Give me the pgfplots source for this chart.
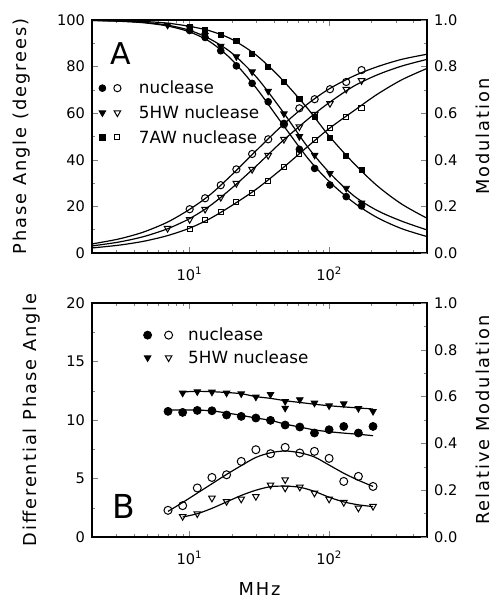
\documentclass[border=0pt]{standalone}
\usepackage{fontspec}
\setmainfont{DejaVu Sans}
\newfontfamily\labelfont[LetterSpace=11]{DejaVu Sans}
\usepackage{pgfplots}
\pgfplotsset{compat=1.18}
\usepackage{pgfplotstable}

% panel A: phase (deg) and modulation
\pgfplotstableread{
f      nuc   hw    aw    mnuc   mhw    maw
6.95   nan   10.6  nan   nan    0.978  nan
10     18.8  14.4  10.2  0.955  0.965  0.970
12.9   23.5  18.8  14.2  0.925  0.935  0.955
16.7   29.1  23.9  17.5  0.868  0.888  0.935
21.6   35.9  29.9  21.8  0.803  0.843  0.910
28     42.5  35.9  25.9  0.728  0.778  0.855
36.5   48.8  41.9  30.9  0.649  0.695  0.800
47.3   55.2  48.8  36.8  0.556  0.598  0.735
61     62.1  54.2  42.5  0.445  0.500  0.662
78.5   66.0  59.5  48.5  0.363  0.420  0.585
101    70.3  64.2  53.5  0.292  0.342  0.494
132    73.4  70.3  58.2  0.242  0.278  0.418
170    78.5  74.0  62.4  0.202  0.215  0.356
}\dataA

% panel A: fitted curves
\pgfplotstableread{
f    nuc    hw     aw     mnuc    mhw     maw
2    3.88   3.02   2.16   0.9978  0.9981  0.9989
3    5.81   4.53   3.24   0.9950  0.9958  0.9974
4    7.73   6.03   4.31   0.9913  0.9925  0.9955
5    9.63   7.52   5.38   0.9864  0.9884  0.9929
7    13.36  10.47  7.52   0.9739  0.9776  0.9863
10   18.74  14.78  10.67  0.9488  0.9557  0.9727
14   25.00  20.28  14.78  0.9063  0.9183  0.9533
20   33.50  27.82  20.34  0.8299  0.8587  0.9175
30   43.98  37.36  27.40  0.7075  0.7555  0.8491
45   54.18  47.42  35.79  0.5624  0.6180  0.7499
70   64.00  57.36  45.70  0.4072  0.4550  0.6197
100  70.48  64.59  53.49  0.3061  0.3450  0.5008
150  76.01  71.65  61.07  0.2158  0.2449  0.3842
220  79.94  76.44  68.10  0.1521  0.1824  0.2886
330  83.12  80.23  74.34  0.1043  0.1365  0.2096
500  85.30  83.10  79.21  0.0706  0.0990  0.1492
}\fitA

% panel B: differential phase and relative modulation
\pgfplotstableread{
f      dnuc   dhw    rnuc    rhw
7      10.74  nan    0.114   nan
8.91   10.65  12.31  0.134   0.088
11.34  10.82  12.42  0.2095  0.0995
14.44  10.79  12.39  0.2545  0.1665
18.38  10.43  12.31  0.266   0.152
23.40  10.31  12.25  0.323   0.1625
29.79  10.17  11.97  0.373   0.1735
37.92  9.97   12.19  0.356   0.2225
48.27  9.57   11.59  0.383   0.245
48.27  nan    11.02  nan     0.2095
61.45  9.40   11.74  0.359   0.2135
78.23  8.89   11.45  0.366   0.188
99.58  9.17   11.22  0.336   0.1625
126.8  9.45   11.39  0.2375  0.148
161.4  8.89   10.99  0.259   0.124
205.4  9.45   10.74  0.216   0.131
}\dataB

\pgfplotstableread{
f      dnuc   dhw    rnuc    rhw
7      10.85  nan    0.1095  nan
8.91   10.85  12.40  0.1475  0.0855
11.34  10.85  12.45  0.1875  0.0995
14.44  10.78  12.42  0.2275  0.1225
18.38  10.60  12.35  0.2675  0.150
23.40  10.40  12.25  0.305   0.1775
29.79  10.17  12.00  0.340   0.200
37.92  9.97   11.85  0.360   0.215
48.27  9.65   11.65  0.3675  0.2175
61.45  9.40   11.50  0.360   0.2125
78.23  9.15   11.35  0.342   0.195
99.58  9.00   11.22  0.3075  0.170
126.8  8.88   11.12  0.2725  0.150
161.4  8.78   11.03  0.2425  0.1375
205.4  8.66   10.94  0.216   0.130
}\fitB

\tikzset{
  fitline/.style={black, line width=0.6pt, smooth},
  fdot/.style={mark=*, mark size=1.7pt, black},
  odot/.style={mark=o, mark size=1.8pt, black, mark options={line width=0.5pt}},
  ftri/.style={mark=triangle*, mark size=1.9pt, black, mark options={rotate=180}},
  otri/.style={mark=triangle, mark size=1.9pt, black, mark options={rotate=180, line width=0.5pt}},
  fsq/.style={mark=square*, mark size=1.3pt, black},
  osq/.style={mark=square, mark size=1.3pt, black, mark options={line width=0.5pt}},
}

\begin{document}
\begin{tikzpicture}
\useasboundingbox (0,0) rectangle (246.5pt,300.5pt);

% ---------------- panel A ----------------
\begin{axis}[at={(46pt,174pt)}, anchor=south west,
    scale only axis, width=167.5pt, height=116.5pt,
    xmode=log, xmin=2, xmax=500,
    xtick={10,100}, xticklabels={10\textsuperscript{1},10\textsuperscript{2}},
    minor xtick={2,3,4,5,6,7,8,9,20,30,40,50,60,70,80,90,200,300,400,500},
    tick align=inside, major tick length=3pt, minor tick length=1.7pt,
    axis line style={line width=0.6pt},
    tick label style={font=\fontsize{7.3}{8}\selectfont},
    xticklabel style={yshift=-3.5pt},
    label style={font=\labelfont\fontsize{8.9}{10}\selectfont},
    /pgf/number format/assume math mode=true,
    ymin=0, ymax=100, ytick={0,20,40,60,80,100}, minor y tick num=1, ytick pos=left,
    ylabel={Phase Angle (degrees)},
    ylabel style={at={(axis description cs:-0.209,0.5)}, anchor=center},
    legend style={at={(axis description cs:0.0,0.762)}, anchor=north west,
      draw=none, fill=none, font=\fontsize{8.4}{9}\selectfont, row sep=4pt,
      nodes={inner xsep=2.8pt, inner ysep=0.8pt, text height=6.2pt, text depth=0.5pt}},
    legend cell align=left]
\addlegendimage{legend image code/.code={
    \draw[fdot] plot[only marks] coordinates {(0pt,0pt)};
    \draw[odot] plot[only marks] coordinates {(7.5pt,0pt)};
    \path[draw=none] (-2pt,0pt) -- (15.5pt,0pt);}}
\addlegendentry{nuclease}
\addlegendimage{legend image code/.code={
    \draw[ftri] plot[only marks] coordinates {(0pt,0pt)};
    \draw[otri] plot[only marks] coordinates {(7.5pt,0pt)};
    \path[draw=none] (-2pt,0pt) -- (15.5pt,0pt);}}
\addlegendentry{5HW nuclease}
\addlegendimage{legend image code/.code={
    \draw[fsq] plot[only marks] coordinates {(0pt,0pt)};
    \draw[osq] plot[only marks] coordinates {(7.5pt,0pt)};
    \path[draw=none] (-2pt,0pt) -- (15.5pt,0pt);}}
\addlegendentry{7AW nuclease}
\addplot[fitline, no marks, forget plot] table[x=f, y=nuc] {\fitA};
\addplot[fitline, no marks, forget plot] table[x=f, y=hw] {\fitA};
\addplot[fitline, no marks, forget plot] table[x=f, y=aw] {\fitA};
\addplot[odot, only marks, forget plot] table[x=f, y=nuc] {\dataA};
\addplot[otri, only marks, forget plot] table[x=f, y=hw] {\dataA};
\addplot[osq, only marks, forget plot] table[x=f, y=aw] {\dataA};
\node at (axis description cs:0.087,0.858) {\fontsize{15}{15}\selectfont A};
\end{axis}
\begin{axis}[at={(46pt,174pt)}, anchor=south west,
    scale only axis, width=167.5pt, height=116.5pt,
    xmode=log, xmin=2, xmax=500, axis x line=none, axis y line*=right,
    tick align=inside, major tick length=3pt, minor tick length=1.7pt,
    axis line style={line width=0.6pt},
    tick label style={font=\fontsize{7.3}{8}\selectfont},
    label style={font=\labelfont\fontsize{8.9}{10}\selectfont},
    /pgf/number format/assume math mode=true,
    ymin=0, ymax=1, ytick={0,0.2,0.4,0.6,0.8,1}, minor y tick num=1,
    yticklabel style={/pgf/number format/fixed, /pgf/number format/fixed zerofill,
      /pgf/number format/precision=1},
    ylabel={Modulation},
    ylabel style={at={(axis description cs:1.168,0.5)}, anchor=center}]
\addplot[fitline, no marks] table[x=f, y=mnuc] {\fitA};
\addplot[fitline, no marks] table[x=f, y=mhw] {\fitA};
\addplot[fitline, no marks] table[x=f, y=maw] {\fitA};
\addplot[fdot, only marks] table[x=f, y=mnuc] {\dataA};
\addplot[ftri, only marks] table[x=f, y=mhw] {\dataA};
\addplot[fsq, only marks] table[x=f, y=maw] {\dataA};
\end{axis}

% ---------------- panel B ----------------
\begin{axis}[at={(46pt,32pt)}, anchor=south west,
    scale only axis, width=167.5pt, height=117pt,
    xmode=log, xmin=2, xmax=500,
    xtick={10,100}, xticklabels={10\textsuperscript{1},10\textsuperscript{2}},
    minor xtick={2,3,4,5,6,7,8,9,20,30,40,50,60,70,80,90,200,300,400,500},
    tick align=inside, major tick length=3pt, minor tick length=1.7pt,
    axis line style={line width=0.6pt},
    tick label style={font=\fontsize{7.3}{8}\selectfont},
    xticklabel style={yshift=-3.5pt},
    label style={font=\labelfont\fontsize{8.9}{10}\selectfont},
    /pgf/number format/assume math mode=true,
    ymin=0, ymax=20, ytick={0,5,10,15,20}, minor y tick num=1, ytick pos=left,
    ylabel={Differential Phase Angle},
    ylabel style={at={(axis description cs:-0.181,0.5)}, anchor=center},
    xlabel={MHz},
    xlabel style={at={(axis description cs:0.5,-0.224)}, anchor=center},
    legend style={at={(axis description cs:0.135,0.917)}, anchor=north west,
      draw=none, fill=none, font=\fontsize{8.4}{9}\selectfont, row sep=3pt,
      nodes={inner xsep=2.8pt, inner ysep=0.8pt, text height=6.2pt, text depth=0.5pt}},
    legend cell align=left]
\addlegendimage{legend image code/.code={
    \draw[fdot, mark size=2pt] plot[only marks] coordinates {(0pt,0pt)};
    \draw[odot, mark size=2pt] plot[only marks] coordinates {(10.5pt,0pt)};
    \path[draw=none] (-2pt,0pt) -- (17.5pt,0pt);}}
\addlegendentry{nuclease}
\addlegendimage{legend image code/.code={
    \draw[ftri] plot[only marks] coordinates {(0pt,0pt)};
    \draw[otri] plot[only marks] coordinates {(10.5pt,0pt)};
    \path[draw=none] (-2pt,0pt) -- (17.5pt,0pt);}}
\addlegendentry{5HW nuclease}
\addplot[fitline, no marks, forget plot] table[x=f, y=dnuc] {\fitB};
\addplot[fitline, no marks, forget plot] table[x=f, y=dhw] {\fitB};
\addplot[fdot, mark size=2pt, only marks, forget plot] table[x=f, y=dnuc] {\dataB};
\addplot[ftri, only marks, forget plot] table[x=f, y=dhw] {\dataB};
\node at (axis description cs:0.096,0.13) {\fontsize{16.5}{16.5}\selectfont B};
\end{axis}
\begin{axis}[at={(46pt,32pt)}, anchor=south west,
    scale only axis, width=167.5pt, height=117pt,
    xmode=log, xmin=2, xmax=500, axis x line=none, axis y line*=right,
    tick align=inside, major tick length=3pt, minor tick length=1.7pt,
    axis line style={line width=0.6pt},
    tick label style={font=\fontsize{7.3}{8}\selectfont},
    label style={font=\labelfont\fontsize{8.9}{10}\selectfont},
    /pgf/number format/assume math mode=true,
    ymin=0, ymax=1, ytick={0,0.2,0.4,0.6,0.8,1}, minor y tick num=1,
    yticklabel style={/pgf/number format/fixed, /pgf/number format/fixed zerofill,
      /pgf/number format/precision=1},
    ylabel={Relative Modulation},
    ylabel style={at={(axis description cs:1.167,0.5)}, anchor=center}]
\addplot[fitline, no marks] table[x=f, y=rnuc] {\fitB};
\addplot[fitline, no marks] table[x=f, y=rhw] {\fitB};
\addplot[odot, mark size=2pt, only marks] table[x=f, y=rnuc] {\dataB};
\addplot[otri, only marks] table[x=f, y=rhw] {\dataB};
\end{axis}
\end{tikzpicture}
\end{document}
